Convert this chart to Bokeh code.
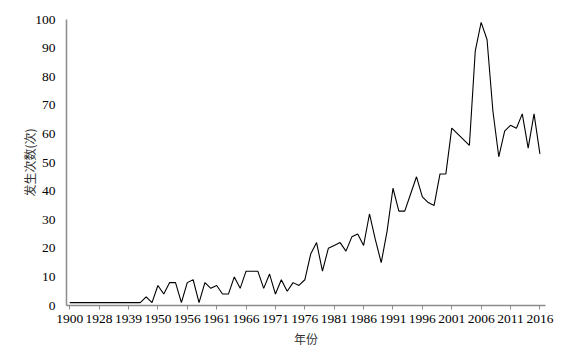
from bokeh.plotting import figure
from bokeh.models import FixedTicker, Range1d
from bokeh.embed import file_html
from bokeh.resources import INLINE

years = ["1900", "1905", "1910", "1915", "1920", "1928", "1930", "1932", "1934", "1936",
         "1939", "1941", "1943", "1945", "1947", "1950", "1951", "1952", "1953", "1955"] + \
        [str(y) for y in range(1956, 2017)]

counts = [1, 1, 1, 1, 1, 1, 1, 1, 1, 1,
          1, 1, 1, 3, 1, 7, 4, 8, 8, 1,
          8, 9, 1, 8, 6, 7, 4, 4, 10, 6,
          12, 12, 12, 6, 11, 4, 9, 5, 8, 7,
          9, 18, 22, 12, 20, 21, 22, 19, 24, 25,
          21, 32, 23, 15, 26, 41, 33, 33, 39, 45,
          38, 36, 35, 46, 46, 62, 60, 58, 56, 89,
          99, 93, 68, 52, 61, 63, 62, 67, 55, 67,
          53]

y_ticks = [0, 10, 20, 30, 40, 50, 60, 70, 80, 90, 100]

idx = list(range(len(years)))
label_idx = idx[::5]

p = figure(width=585, height=355, output_backend="svg", toolbar_location=None,
           x_range=Range1d(-0.55, 80.95), y_range=Range1d(0, 100),
           min_border_left=66, min_border_right=40, min_border_top=19, min_border_bottom=50)
p.outline_line_color = None
p.grid.visible = False
p.background_fill_color = "white"
p.border_fill_color = "white"

p.line(idx, counts, line_color="black", line_width=1.1)

font = "Liberation Serif"

p.xaxis.ticker = FixedTicker(ticks=label_idx)
p.xaxis.major_label_overrides = {i: years[i] for i in label_idx}
p.xaxis.minor_tick_line_color = None
p.xaxis.major_tick_out = 4
p.xaxis.major_tick_in = 0
p.xaxis.axis_line_color = "#8c8c8c"
p.xaxis.major_tick_line_color = "#8c8c8c"
p.xaxis.axis_line_width = 1.5
p.xaxis.major_label_text_font = font
p.xaxis.major_label_text_font_size = "13.5px"
p.xaxis.major_label_text_color = "black"
p.xaxis.major_label_standoff = 5
p.xaxis.axis_label = "年份"
p.xaxis.axis_label_text_font = "Noto Sans CJK SC"
p.xaxis.axis_label_text_font_size = "12px"
p.xaxis.axis_label_text_font_style = "normal"
p.xaxis.axis_label_text_color = "#333333"
p.xaxis.axis_label_standoff = 4

p.yaxis.ticker = FixedTicker(ticks=y_ticks)
p.yaxis.minor_tick_line_color = None
p.yaxis.major_tick_line_color = None
p.yaxis.major_tick_out = 0
p.yaxis.major_tick_in = 0
p.yaxis.axis_line_color = "#8c8c8c"
p.yaxis.axis_line_width = 1.5
p.yaxis.major_label_text_font = font
p.yaxis.major_label_text_font_size = "13.5px"
p.yaxis.major_label_text_color = "black"
p.yaxis.major_label_standoff = 11
p.yaxis.axis_label = "发生次数(次)"
p.yaxis.axis_label_text_font = "Noto Sans CJK SC"
p.yaxis.axis_label_text_font_size = "12px"
p.yaxis.axis_label_text_font_style = "normal"
p.yaxis.axis_label_text_color = "#333333"
p.yaxis.axis_label_standoff = -6

open("out.html", "w").write(file_html(p, INLINE))
